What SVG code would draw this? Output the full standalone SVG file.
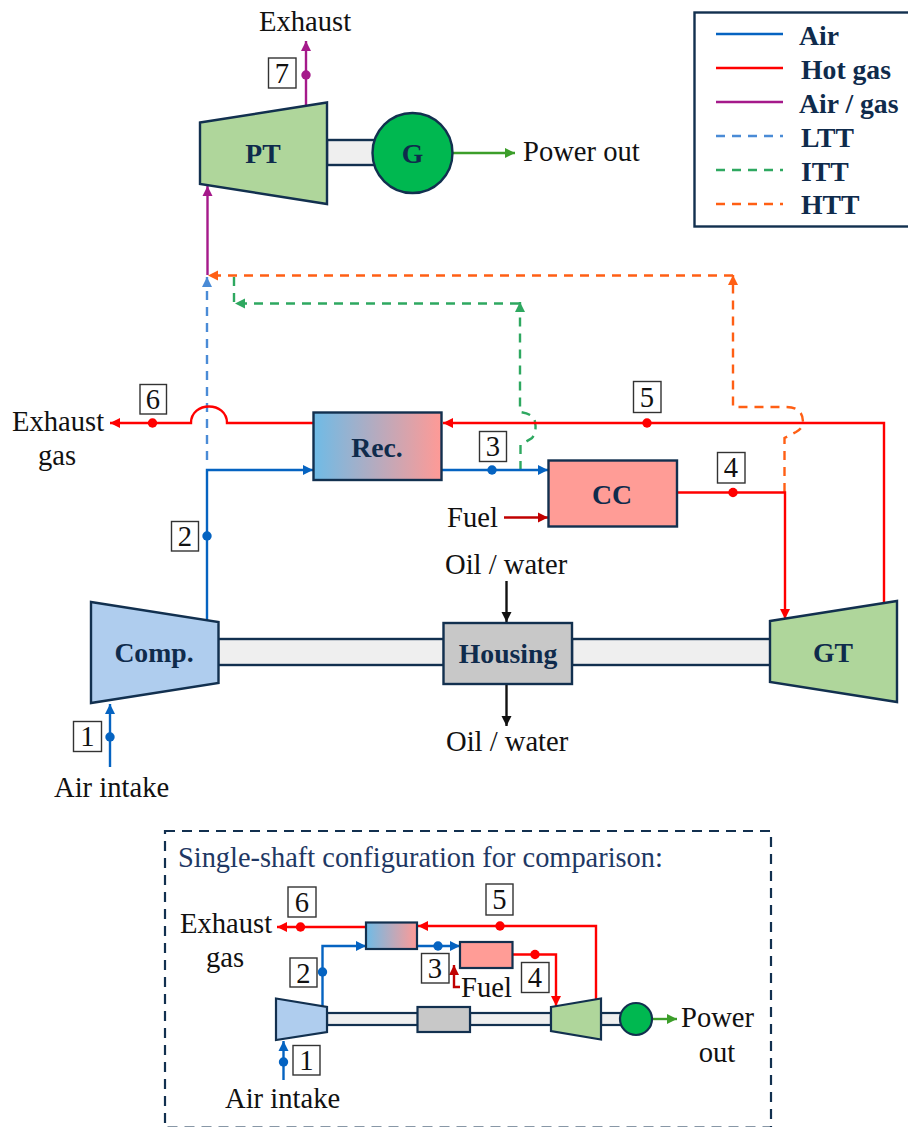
<svg xmlns="http://www.w3.org/2000/svg" width="908" height="1127" viewBox="0 0 908 1127">
<style>
text{font-family:"Liberation Serif","Times New Roman",serif}
.t{font-size:28.600px;fill:#111}
.m{text-anchor:middle}
.b{font-size:27.700px;font-weight:bold;fill:#0f2b4c;text-anchor:middle}
.lg{font-size:27.700px;font-weight:bold;fill:#0f2b4c}
.s{stroke:#12304f;stroke-width:2.400}
.ss{stroke:#12304f;stroke-width:2.200}
.n{fill:#fff;stroke:#333;stroke-width:1.400}
.c{fill:none;stroke-width:2.400}
.air{stroke:#0563c1}.hot{stroke:#ff0000}.mix{stroke:#a5198a}.fuel{stroke:#c00000}.blk{stroke:#111}.pow{stroke:#3c9e2a}
.ltt{stroke:#4a8bd6;stroke-dasharray:9 7}.itt{stroke:#2ea860;stroke-dasharray:9 7}.htt{stroke:#ff5f14;stroke-dasharray:9 7}
.da{fill:#0563c1}.dh{fill:#ff0000}.dm{fill:#a5198a}
</style>
<defs>
<linearGradient id="rec" x1="0" x2="1" y1="0" y2="0"><stop offset="0" stop-color="#6fbbe6"/><stop offset="1" stop-color="#ff9a96"/></linearGradient>
<marker id="aAir" markerUnits="userSpaceOnUse" markerWidth="11" markerHeight="11" refX="10" refY="5.500" orient="auto"><path d="M0 0.500L10 5.500L0 10.500z" fill="#0563c1"/></marker>
<marker id="aHot" markerUnits="userSpaceOnUse" markerWidth="11" markerHeight="11" refX="10" refY="5.500" orient="auto"><path d="M0 0.500L10 5.500L0 10.500z" fill="#ff0000"/></marker>
<marker id="aMix" markerUnits="userSpaceOnUse" markerWidth="11" markerHeight="11" refX="10" refY="5.500" orient="auto"><path d="M0 0.500L10 5.500L0 10.500z" fill="#a5198a"/></marker>
<marker id="aFuel" markerUnits="userSpaceOnUse" markerWidth="11" markerHeight="11" refX="10" refY="5.500" orient="auto"><path d="M0 0.500L10 5.500L0 10.500z" fill="#c00000"/></marker>
<marker id="aBlk" markerUnits="userSpaceOnUse" markerWidth="11" markerHeight="11" refX="10" refY="5.500" orient="auto"><path d="M0 0.500L10 5.500L0 10.500z" fill="#111"/></marker>
<marker id="aPow" markerUnits="userSpaceOnUse" markerWidth="11" markerHeight="11" refX="10" refY="5.500" orient="auto"><path d="M0 0.500L10 5.500L0 10.500z" fill="#3c9e2a"/></marker>
<marker id="aLtt" markerUnits="userSpaceOnUse" markerWidth="11" markerHeight="11" refX="10" refY="5.500" orient="auto"><path d="M0 0.500L10 5.500L0 10.500z" fill="#4a8bd6"/></marker>
<marker id="aItt" markerUnits="userSpaceOnUse" markerWidth="11" markerHeight="11" refX="10" refY="5.500" orient="auto"><path d="M0 0.500L10 5.500L0 10.500z" fill="#2ea860"/></marker>
<marker id="aHtt" markerUnits="userSpaceOnUse" markerWidth="11" markerHeight="11" refX="10" refY="5.500" orient="auto"><path d="M0 0.500L10 5.500L0 10.500z" fill="#ff5f14"/></marker>
</defs>
<rect width="908" height="1127" fill="#fff"/>

<g id="shafts">
<rect x="327" y="140" width="50" height="25" fill="#efefef" class="s"/>
<rect x="218" y="639" width="226" height="26" fill="#efefef" class="s"/>
<rect x="572" y="639" width="199" height="26" fill="#efefef" class="s"/>
<rect x="327" y="1013" width="91" height="12" fill="#efefef" class="ss"/>
<rect x="470" y="1013" width="81" height="12" fill="#efefef" class="ss"/>
<rect x="601" y="1013" width="20" height="12" fill="#efefef" class="ss"/>
</g>

<g id="connectors">
<path class="c mix" d="M207.500 275V186" marker-end="url(#aMix)"/>
<path class="c mix" d="M306 105V41" marker-end="url(#aMix)"/>
<circle class="dm" cx="306" cy="75" r="4.700"/>
<path class="c pow" d="M453 153H515" marker-end="url(#aPow)"/>
<path class="c ltt" d="M207 460V277" marker-end="url(#aLtt)"/>
<path class="c htt" d="M784.500 492V438L796 432Q803 428 803 422Q803 407 786 407H733V275" marker-end="url(#aHtt)"/>
<path class="c htt" d="M733 275.500H208" marker-end="url(#aHtt)"/>
<path class="c itt" d="M520.500 470V445L532 438Q537 432 535 422Q534 414 520 412V302" marker-end="url(#aItt)"/>
<path class="c itt" d="M519 303.500H235" marker-end="url(#aItt)"/>
<path class="c itt" d="M234 277V303"/>
<path class="c hot" d="M884 602V423H443" marker-end="url(#aHot)"/>
<circle class="dh" cx="647" cy="423" r="4.700"/>
<path class="c hot" d="M313 423H227C227 401 191 401 191 423H110" marker-end="url(#aHot)"/>
<circle class="dh" cx="152.500" cy="423" r="4.700"/>
<path class="c air" d="M207 620V470H313" marker-end="url(#aAir)"/>
<circle class="da" cx="207" cy="536" r="4.700"/>
<path class="c air" d="M441 470H548" marker-end="url(#aAir)"/>
<circle class="da" cx="492" cy="470" r="4.700"/>
<path class="c fuel" d="M504 517.500H548" marker-end="url(#aFuel)"/>
<path class="c hot" d="M677 492.500H785V619" marker-end="url(#aHot)"/>
<circle class="dh" cx="733" cy="492.500" r="4.700"/>
<path class="c blk" d="M506.500 581V622" marker-end="url(#aBlk)"/>
<path class="c blk" d="M506.500 684V726" marker-end="url(#aBlk)"/>
<path class="c air" d="M110 767V704" marker-end="url(#aAir)"/>
<circle class="da" cx="110" cy="737" r="4.700"/>

<path class="c hot" d="M366 927H277" marker-end="url(#aHot)"/>
<circle class="dh" cx="300.500" cy="927" r="4.700"/>
<path class="c hot" d="M596 999V926H418" marker-end="url(#aHot)"/>
<circle class="dh" cx="500" cy="926" r="4.700"/>
<path class="c hot" d="M513 954.500H556V1006" marker-end="url(#aHot)"/>
<circle class="dh" cx="535" cy="954.500" r="4.700"/>
<path class="c air" d="M322.500 1006V946H366" marker-end="url(#aAir)"/>
<circle class="da" cx="322.500" cy="972" r="4.700"/>
<path class="c air" d="M417 946H460" marker-end="url(#aAir)"/>
<circle class="da" cx="438" cy="946" r="4.700"/>
<path class="c fuel" d="M460 987H454V965" marker-end="url(#aFuel)"/>
<path class="c pow" d="M653 1019H677" marker-end="url(#aPow)"/>
<path class="c air" d="M283.500 1080V1041" marker-end="url(#aAir)"/>
<circle class="da" cx="283.500" cy="1062" r="4.700"/>
</g>

<g id="PT"><polygon points="200,122.500 327,102.500 327,204 200,184" fill="#afd69b" class="s"/><text class="b" x="263" y="163">PT</text></g>
<g id="G"><circle cx="412.500" cy="153" r="40" fill="#00b850" class="s"/><text class="b" x="412.500" y="163">G</text></g>
<g id="Rec"><rect x="313.500" y="412.500" width="128" height="67.500" fill="url(#rec)" class="s"/><text class="b" x="377" y="456.500">Rec.</text></g>
<g id="CC"><rect x="548.500" y="460.500" width="128.500" height="66" fill="#ff9c96" class="s"/><text class="b" x="612" y="504">CC</text></g>
<g id="Comp"><polygon points="91,602 218.500,622 218.500,683 91,703" fill="#afcdee" class="s"/><text class="b" x="154" y="662">Comp.</text></g>
<g id="Housing"><rect x="443.500" y="623" width="128.500" height="61" fill="#c8c8c8" class="s"/><text class="b" x="508" y="663">Housing</text></g>
<g id="GT"><polygon points="770,621 897,601 897,702 770,682" fill="#afd69b" class="s"/><text class="b" x="833" y="661.500">GT</text></g>

<g id="labels">
<text class="t" x="259" y="31">Exhaust</text>
<text class="t" x="523" y="161">Power out</text>
<text class="t" x="12" y="431">Exhaust</text>
<text class="t m" x="57" y="465">gas</text>
<text class="t" x="447" y="527">Fuel</text>
<text class="t" x="445" y="574">Oil / water</text>
<text class="t" x="446" y="751">Oil / water</text>
<text class="t" x="54" y="797">Air intake</text>
</g>

<g id="state-1"><rect class="n" x="73.500" y="721.500" width="28" height="30"/><text class="t m" x="87.500" y="746">1</text></g>
<g id="state-2"><rect class="n" x="171.500" y="521.500" width="27" height="29.500"/><text class="t m" x="185" y="546">2</text></g>
<g id="state-3"><rect class="n" x="479.500" y="431.500" width="27" height="30"/><text class="t m" x="493" y="456">3</text></g>
<g id="state-4"><rect class="n" x="717.500" y="452.500" width="27.500" height="30.500"/><text class="t m" x="731" y="477">4</text></g>
<g id="state-5"><rect class="n" x="633.500" y="381.500" width="27.500" height="31"/><text class="t m" x="647" y="407">5</text></g>
<g id="state-6"><rect class="n" x="140" y="384.500" width="26.500" height="29.500"/><text class="t m" x="153" y="409">6</text></g>
<g id="state-7"><rect class="n" x="268.500" y="58" width="27.500" height="30"/><text class="t m" x="282" y="83">7</text></g>

<g id="legend">
<rect x="694.500" y="12.500" width="230" height="214" fill="#fff" stroke="#12304f" stroke-width="2.400"/>
<path class="c air" d="M716 34H783"/><path class="c hot" d="M716 68H783"/><path class="c mix" d="M716 102H783"/>
<path class="c ltt" d="M716 136H783"/><path class="c itt" d="M716 170H783"/><path class="c htt" d="M716 204H783"/>
<text class="lg" x="799" y="45">Air</text>
<text class="lg" x="801" y="78.500">Hot gas</text>
<text class="lg" x="799" y="112.500">Air / gas</text>
<text class="lg" x="801" y="146.500">LTT</text>
<text class="lg" x="801" y="180.500">ITT</text>
<text class="lg" x="801" y="214">HTT</text>
</g>

<g id="inset">
<rect x="165" y="831" width="606" height="296.500" fill="none" stroke="#12304f" stroke-width="2.200" stroke-dasharray="10 7"/>
<text x="178" y="867" font-size="28.400" fill="#1f3864">Single-shaft configuration for comparison:</text>
<g id="inset-comp"><polygon points="276,998.500 327,1007 327,1032 276,1040" fill="#afcdee" class="ss"/></g>
<g id="inset-housing"><rect x="417.500" y="1007" width="52.500" height="25" fill="#c8c8c8" class="ss"/></g>
<g id="inset-gt"><polygon points="551,1007 601,998.500 601,1039.500 551,1031" fill="#afd69b" class="ss"/></g>
<g id="inset-g"><circle cx="636" cy="1019" r="16" fill="#00b850" class="ss"/></g>
<g id="inset-rec"><rect x="366" y="922.500" width="51" height="26.500" fill="url(#rec)" class="ss"/></g>
<g id="inset-cc"><rect x="460" y="942" width="52.500" height="26" fill="#ff9c96" class="ss"/></g>
<text class="t" x="180" y="933">Exhaust</text>
<text class="t m" x="225" y="967">gas</text>
<text class="t" x="461" y="997">Fuel</text>
<text class="t" x="681" y="1027">Power</text>
<text class="t m" x="717" y="1062">out</text>
<text class="t" x="225" y="1108">Air intake</text>
<g id="inset-state-1"><rect class="n" x="293" y="1045.500" width="27" height="29.500"/><text class="t m" x="306.500" y="1070">1</text></g>
<g id="inset-state-2"><rect class="n" x="290" y="958" width="27" height="29"/><text class="t m" x="303.500" y="983">2</text></g>
<g id="inset-state-3"><rect class="n" x="421.500" y="953.500" width="27.500" height="29.500"/><text class="t m" x="435" y="978">3</text></g>
<g id="inset-state-4"><rect class="n" x="521.500" y="962.500" width="27.500" height="30"/><text class="t m" x="535" y="987">4</text></g>
<g id="inset-state-5"><rect class="n" x="486" y="884" width="27" height="31"/><text class="t m" x="499.500" y="909">5</text></g>
<g id="inset-state-6"><rect class="n" x="288" y="887" width="28" height="30"/><text class="t m" x="302" y="912">6</text></g>
</g>
</svg>
